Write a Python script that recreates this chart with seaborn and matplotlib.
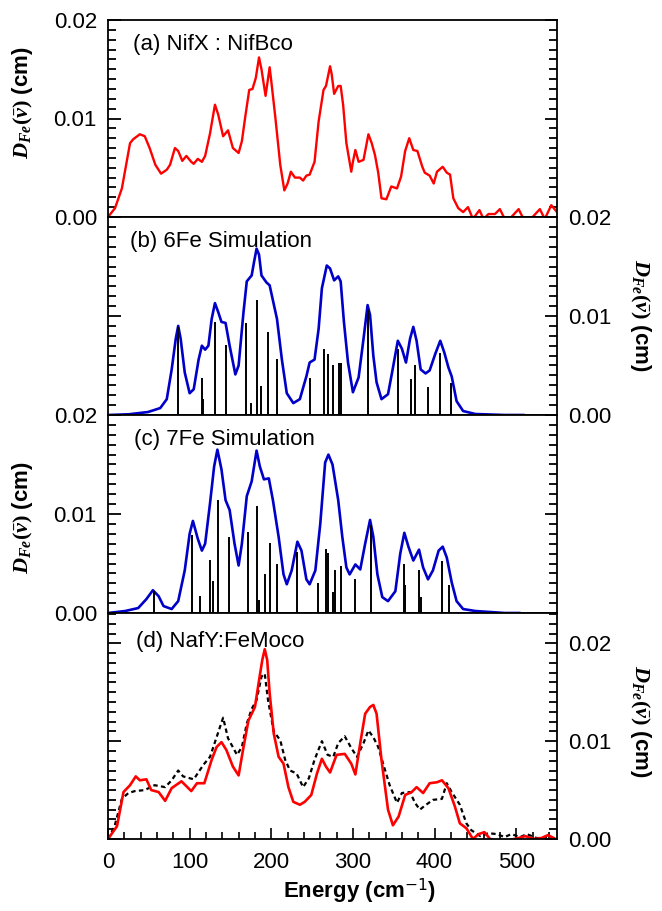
import matplotlib

matplotlib.use("Agg")
import matplotlib.pyplot as plt  # noqa: E402
import matplotlib.ticker as mticker  # noqa: E402
import pandas as pd  # noqa: E402
import seaborn as sns  # noqa: E402

# (a) NifX:NifBco experimental PVDOS
a_energy = [0, 8.6, 17, 27, 31, 39, 45, 51, 58, 65, 72, 76, 82, 86, 91, 96, 102, 105, 110, 115,
            119, 125, 131, 135, 141, 147, 153, 160, 164, 168, 173, 177, 181, 185, 188, 193, 198, 200, 205, 211,
            216, 220, 224, 229, 235, 239, 243, 247, 253, 258, 264, 267, 272, 274, 277, 282, 285, 288, 292, 298,
            300, 303, 307, 313, 319, 323, 327, 331, 335, 341, 347, 354, 359, 364, 369, 374, 379, 385, 388, 394,
            399, 403, 410, 415, 419, 423, 429, 435, 441, 447, 455, 460, 466, 474, 480, 486, 493, 503, 509, 519,
            529, 535, 543, 550]
a_dos = [0, .0009, .0029, .0075, .0079, .0084, .0082, .0070, .0053, .0044, .0048, .0053, .0070, .0067, .0057,
         .0062, .0056, .0054, .0059, .0056, .0062, .0085, .0114, .0104, .0082, .0088, .0070, .0065, .0077, .0101,
         .0129, .0130, .0141, .0162, .0150, .0123, .0152, .0138, .0101, .0053, .0027, .0034, .0046, .0040, .0040,
         .0037, .0042, .0043, .0056, .0097, .0129, .0133, .0153, .0145, .0125, .0133, .0133, .0114, .0075, .0046,
         .0056, .0068, .0056, .0058, .0084, .0075, .0063, .0045, .0019, .0018, .0031, .0029, .0041, .0067, .0080,
         .0068, .0067, .0051, .0045, .0042, .0034, .0046, .0051, .0045, .0043, .0019, .0009, .0005, .0010, -.0002,
         .0007, -.0002, .0003, .0003, .0008, -.0002, -.0001, .0008, -.0002, -.0001, .0008, -.0002, .0012, .0005]

# (b) 6Fe simulation: broadened curve + stick spectrum
b_energy = [0, 25, 49, 64, 72, 78, 83, 86, 89, 94, 100, 105, 111, 115, 119, 123, 127, 131, 135, 139, 144, 149,
            156, 160, 166, 170, 176, 179, 182, 185, 188, 194, 198, 207, 213, 219, 227, 235, 243, 247, 253, 258,
            262, 268, 272, 277, 282, 285, 289, 294, 300, 307, 313, 318, 321, 325, 329, 335, 343, 348, 355, 360,
            365, 370, 374, 378, 383, 389, 394, 401, 407, 412, 417, 421, 427, 435, 450, 486, 510]
b_dos = [0, .00007, .0003, .0007, .0016, .0046, .0077, .0090, .0077, .0043, .0022, .0026, .0056, .0070, .0066,
         .0070, .0097, .0113, .0104, .0094, .0093, .0070, .0041, .0050, .0104, .0135, .0141, .0155, .0168, .0162,
         .0141, .0134, .0131, .0097, .0056, .0022, .0012, .0016, .0039, .0053, .0056, .0087, .0128, .0151, .0148,
         .0136, .0140, .0135, .0094, .0053, .0023, .0038, .0077, .0111, .0101, .0060, .0033, .0016, .0021, .0043,
         .0075, .0067, .0053, .0077, .0089, .0075, .0046, .0042, .0045, .0062, .0075, .0063, .0048, .0039, .0014,
         .0004, .0001, 0, 0]
b_stick_energy = [86, 115, 116.5, 131, 144, 169, 175, 182, 188, 196, 207, 247, 264, 269, 275, 283, 285, 318,
                  355, 371, 376, 392, 407, 420]
b_stick_height = [.0089, .0037, .0016, .0094, .0071, .0093, .0012, .0116, .0029, .0084, .0057, .0037, .0067,
                  .0062, .0050, .0053, .0053, .0106, .0067, .0036, .0051, .0028, .0063, .0032]

# (c) 7Fe simulation: broadened curve + stick spectrum
c_energy = [0, 21, 37, 47, 55, 62, 68, 78, 86, 94, 100, 104, 110, 115, 119, 125, 130, 134, 139, 144, 149, 155,
            160, 164, 170, 176, 182, 186, 191, 197, 202, 209, 215, 219, 225, 232, 237, 243, 247, 254, 260, 266,
            270, 275, 282, 287, 292, 296, 303, 309, 315, 321, 325, 330, 336, 343, 352, 358, 363, 368, 374, 381,
            386, 392, 398, 405, 410, 415, 421, 427, 435, 450, 486, 505]
c_dos = [0, .0002, .0005, .0014, .0023, .0017, .0007, .0004, .0012, .0043, .0080, .0093, .0075, .0063, .0070,
         .0111, .0148, .0165, .0145, .0114, .0104, .0070, .0048, .0070, .0118, .0133, .0164, .0148, .0135, .0136,
         .0114, .0077, .0039, .0029, .0043, .0072, .0063, .0034, .0029, .0043, .0090, .0152, .0160, .0150, .0114,
         .0077, .0046, .0039, .0049, .0044, .0070, .0094, .0077, .0039, .0016, .0012, .0022, .0060, .0081, .0067,
         .0053, .0064, .0046, .0034, .0043, .0063, .0067, .0056, .0031, .0012, .0004, .0002, 0, 0]
c_stick_energy = [56, 103, 113, 125, 129, 135, 148, 172, 183, 184.5, 192, 198, 207, 232, 257, 267, 270, 276,
                  278, 285, 303, 322, 362, 364, 381, 384, 409, 418]
c_stick_height = [.0022, .0079, .0017, .0054, .0032, .0114, .0077, .0082, .0108, .0013, .0039, .0071, .0050,
                  .0062, .0030, .0065, .0061, .0021, .0043, .0047, .0034, .0089, .0050, .0028, .0043, .0016,
                  .0053, .0028]

# (d) NafY:FeMoco experiment (red) and simulation (dotted)
d_energy_exp = [0, 11, 19, 27, 34, 39, 47, 53, 62, 70, 78, 90, 102, 109, 118, 127, 133, 139, 145, 153, 160, 166,
                172, 180, 185, 189, 192, 195, 198, 203, 209, 215, 221, 227, 235, 241, 249, 256, 262, 267, 272,
                280, 290, 298, 303, 309, 315, 321, 325, 329, 335, 343, 349, 356, 364, 372, 378, 386, 394, 403,
                409, 417, 425, 431, 439, 447, 454, 461, 468, 480, 492, 503, 511, 521, 531, 539, 548]
d_dos_exp = [0, .0013, .0048, .0055, .0064, .0060, .0061, .0050, .0048, .0039, .0052, .0059, .0049, .0057,
             .0057, .0081, .0094, .0099, .0091, .0074, .0065, .0094, .0121, .0135, .0162, .0183, .0194, .0183,
             .0149, .0108, .0084, .0077, .0053, .0038, .0035, .0038, .0045, .0067, .0082, .0074, .0068, .0086,
             .0087, .0077, .0066, .0098, .0128, .0135, .0137, .0128, .0081, .0030, .0014, .0023, .0045, .0048,
             .0053, .0047, .0057, .0058, .0060, .0052, .0033, .0016, .0011, 0, .0005, .0007, 0, -.0003, -.0001,
             .0001, .0003, 0, .0001, .0004, 0]
d_energy_sim = [0, 8, 17, 25, 33, 45, 57, 70, 78, 86, 92, 105, 117, 125, 133, 141, 147, 158, 164, 170, 176, 182,
                188, 192, 196, 203, 211, 217, 223, 231, 239, 246, 253, 262, 269, 276, 282, 290, 298, 305, 313,
                319, 325, 331, 337, 345, 354, 360, 370, 376, 382, 388, 398, 409, 415, 421, 431, 439, 445, 456,
                466, 476, 486, 494, 505, 513, 525, 535, 548]
d_dos_sim = [0, .0013, .0041, .0047, .0049, .0050, .0055, .0053, .0060, .0070, .0064, .0061, .0076, .0084,
             .0104, .0124, .0103, .0086, .0094, .0118, .0133, .0142, .0166, .0169, .0142, .0110, .0101, .0081,
             .0070, .0067, .0053, .0062, .0081, .0100, .0086, .0084, .0098, .0105, .0093, .0084, .0098, .0111,
             .0104, .0094, .0077, .0055, .0037, .0047, .0048, .0037, .0030, .0034, .0040, .0041, .0057, .0048,
             .0035, .0016, .0009, .0003, .0006, .0005, .0002, .0005, .0002, .0005, .0001, .0001, .0001]

panel_titles = ["(a) NifX : NifBco", "(b) 6Fe Simulation", "(c) 7Fe Simulation", "(d) NafY:FeMoco"]
ylabel = r"$D_{Fe}(\bar{\nu})$ (cm)"

RED = "#ff0000"
BLUE = "#0000c8"

sns.set_style("ticks")
plt.rcParams["font.family"] = ["Liberation Sans", "DejaVu Sans"]
plt.rcParams["mathtext.fontset"] = "custom"
plt.rcParams["mathtext.it"] = "Liberation Serif:italic:bold"
plt.rcParams["mathtext.rm"] = "Liberation Serif:bold"
plt.rcParams["mathtext.bf"] = "Liberation Serif:bold"
for key in ["text.color", "axes.labelcolor", "xtick.color", "ytick.color", "axes.edgecolor"]:
    plt.rcParams[key] = "black"

fig = plt.figure(figsize=(6.62, 9.11), dpi=100)
gs = fig.add_gridspec(4, 1, height_ratios=[197, 198, 198, 226], hspace=0,
                      left=108 / 662, right=557 / 662, top=1 - 20 / 911, bottom=1 - 839 / 911)
axes = [fig.add_subplot(gs[i]) for i in range(4)]

ylims = [0.02, 0.02, 0.02, 0.0231]
label_y = [0.878, 0.874, 0.874, 0.872]
label_x = [0.056, 0.049, 0.058, 0.062]

df_a = pd.DataFrame({"energy": a_energy, "dos": a_dos})
sns.lineplot(data=df_a, x="energy", y="dos", ax=axes[0], color=RED, lw=1.7, estimator=None)

df_b = pd.DataFrame({"energy": b_energy, "dos": b_dos})
sns.lineplot(data=df_b, x="energy", y="dos", ax=axes[1], color=BLUE, lw=1.9, estimator=None)
axes[1].vlines(b_stick_energy, 0, b_stick_height, color="black", lw=1.4, zorder=3)

df_c = pd.DataFrame({"energy": c_energy, "dos": c_dos})
sns.lineplot(data=df_c, x="energy", y="dos", ax=axes[2], color=BLUE, lw=1.9, estimator=None)
axes[2].vlines(c_stick_energy, 0, c_stick_height, color="black", lw=1.4, zorder=3)

df_ds = pd.DataFrame({"energy": d_energy_sim, "dos": d_dos_sim})
df_de = pd.DataFrame({"energy": d_energy_exp, "dos": d_dos_exp})
sns.lineplot(data=df_ds, x="energy", y="dos", ax=axes[3], color="black", lw=1.6,
             linestyle=(0, (2, 1.5)), estimator=None)
sns.lineplot(data=df_de, x="energy", y="dos", ax=axes[3], color=RED, lw=1.9, estimator=None)

for i, ax in enumerate(axes):
    ax.set_xlim(0, 550)
    ax.set_ylim(0, ylims[i])
    ax.set_xlabel("")
    ax.set_ylabel("")
    for sp in ax.spines.values():
        sp.set_visible(True)
        sp.set_linewidth(1.3)
        sp.set_color("black")
    ax.yaxis.set_major_locator(mticker.MultipleLocator(0.01))
    ax.yaxis.set_minor_locator(mticker.MultipleLocator(0.001))
    ax.yaxis.set_major_formatter(mticker.FormatStrFormatter("%.2f"))
    right_side = i in (1, 3)
    ax.tick_params(axis="y", which="minor", direction="in", left=True, right=True,
                   length=6, width=1.3)
    ax.tick_params(axis="y", which="major", direction="in", left=True, right=True,
                   labelleft=not right_side, labelright=right_side, labelsize=16, pad=8,
                   length=9, width=1.3)
    ax.tick_params(axis="x", which="both", bottom=False, top=False, labelbottom=False)
    ax.text(label_x[i], label_y[i], panel_titles[i], transform=ax.transAxes,
            fontsize=16, ha="left", va="center")
    if right_side:
        ax.yaxis.set_label_position("right")
        ax.set_ylabel(ylabel, fontsize=16, fontweight="bold", rotation=270, va="center")
    else:
        ax.set_ylabel(ylabel, fontsize=16, fontweight="bold", va="center")

axes[0].yaxis.set_label_coords(-0.19, 0.58)
axes[1].yaxis.set_label_coords(1.187, 0.505)
axes[2].yaxis.set_label_coords(-0.19, 0.48)
axes[3].yaxis.set_label_coords(1.187, 0.52)

bottom = axes[3]
bottom.xaxis.set_major_locator(mticker.MultipleLocator(100))
bottom.xaxis.set_minor_locator(mticker.MultipleLocator(20))
bottom.tick_params(axis="x", which="both", direction="in", bottom=True, labelbottom=True,
                   labelsize=16, pad=9)
bottom.tick_params(axis="x", which="major", length=8, width=1.2)
bottom.tick_params(axis="x", which="minor", length=5, width=1.2)
bottom.set_xlabel(r"Energy (cm$^{\mathsf{-1}}$)", fontsize=16, fontweight="bold")
bottom.xaxis.set_label_coords(0.56, -0.165)

fig.savefig("out.png", dpi=100)
plt.close(fig)
